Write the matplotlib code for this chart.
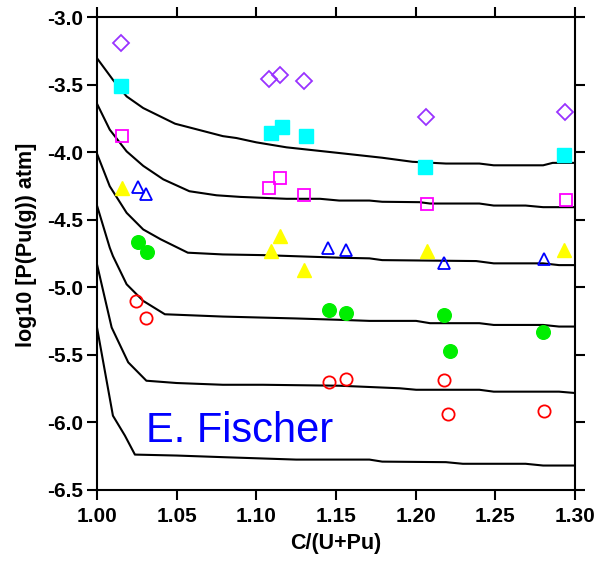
import matplotlib
matplotlib.use("Agg")
import matplotlib.pyplot as plt

plt.rcParams['font.family'] = ['Liberation Sans', 'DejaVu Sans']

# model curves (black lines)
curve_x = [
    [1.000, 1.010, 1.0186, 1.029, 1.049, 1.079, 1.0875, 1.100, 1.119, 1.152, 1.179, 1.198, 1.219, 1.240, 1.249, 1.280, 1.286, 1.300],
    [1.000, 1.008, 1.0186, 1.029, 1.0416, 1.058, 1.075, 1.090, 1.119, 1.140, 1.152, 1.171, 1.179, 1.2024, 1.209, 1.240, 1.249, 1.269, 1.280, 1.300],
    [1.000, 1.008, 1.0186, 1.029, 1.040, 1.057, 1.079, 1.104, 1.152, 1.171, 1.179, 1.238, 1.249, 1.280, 1.290, 1.300],
    [1.000, 1.008, 1.010, 1.0186, 1.029, 1.0426, 1.079, 1.125, 1.152, 1.171, 1.2003, 1.209, 1.240, 1.249, 1.280, 1.290, 1.300],
    [1.000, 1.0092, 1.0196, 1.031, 1.050, 1.079, 1.104, 1.152, 1.190, 1.2003, 1.240, 1.249, 1.290, 1.300],
    [1.000, 1.010, 1.0175, 1.0238, 1.050, 1.079, 1.125, 1.152, 1.171, 1.179, 1.219, 1.2296, 1.269, 1.280, 1.300],
]
curve_y = [
    [-3.303, -3.463, -3.586, -3.672, -3.788, -3.880, -3.894, -3.926, -3.963, -4.005, -4.040, -4.070, -4.083, -4.083, -4.096, -4.096, -4.078, -4.078],
    [-3.640, -3.832, -3.993, -4.100, -4.200, -4.288, -4.318, -4.330, -4.344, -4.344, -4.357, -4.357, -4.366, -4.369, -4.379, -4.379, -4.394, -4.394, -4.406, -4.406],
    [-4.010, -4.251, -4.448, -4.571, -4.644, -4.743, -4.756, -4.761, -4.780, -4.785, -4.798, -4.805, -4.822, -4.822, -4.835, -4.835],
    [-4.394, -4.706, -4.768, -4.977, -5.100, -5.199, -5.216, -5.230, -5.240, -5.248, -5.248, -5.265, -5.265, -5.278, -5.278, -5.290, -5.290],
    [-4.829, -5.297, -5.555, -5.691, -5.708, -5.721, -5.721, -5.728, -5.747, -5.758, -5.758, -5.772, -5.772, -5.782],
    [-5.297, -5.950, -6.097, -6.238, -6.245, -6.257, -6.275, -6.275, -6.275, -6.290, -6.294, -6.306, -6.306, -6.319, -6.319],
]

# measured points
diamond_x = [1.015, 1.108, 1.115, 1.130, 1.2066, 1.294]
diamond_y = [-3.19, -3.456, -3.43, -3.47, -3.74, -3.70]

cyan_x = [1.015, 1.109, 1.116, 1.131, 1.206, 1.293]
cyan_y = [-3.507, -3.857, -3.81, -3.88, -4.106, -4.02]

magenta_x = [1.016, 1.108, 1.115, 1.130, 1.207, 1.2945]
magenta_y = [-3.877, -4.263, -4.19, -4.318, -4.379, -4.352]

yellow_x = [1.016, 1.115, 1.109, 1.130, 1.207, 1.293]
yellow_y = [-4.266, -4.62, -4.73, -4.874, -4.731, -4.724]

blue_x = [1.026, 1.0305, 1.145, 1.156, 1.2177, 1.2803]
blue_y = [-4.258, -4.307, -4.705, -4.72, -4.822, -4.79]

green_x = [1.0255, 1.0313, 1.1458, 1.156, 1.2177, 1.2214, 1.280]
green_y = [-4.665, -4.738, -5.169, -5.186, -5.206, -5.474, -5.33]

red_x = [1.0244, 1.0305, 1.1458, 1.156, 1.218, 1.2204, 1.2806]
red_y = [-5.10, -5.223, -5.699, -5.681, -5.686, -5.935, -5.915]

x_ticks = [1.00, 1.05, 1.10, 1.15, 1.20, 1.25, 1.30]
y_ticks = [-3.0, -3.5, -4.0, -4.5, -5.0, -5.5, -6.0, -6.5]


fig = plt.figure(figsize=(5.98, 5.63), dpi=100)
ax = fig.add_axes([0.1622, 0.1297, 0.7993, 0.8396])

for cx, cy in zip(curve_x, curve_y):
    ax.plot(cx, cy, color='black', lw=1.5, zorder=2)

ax.plot(diamond_x, diamond_y, 'D', ms=8.5, mfc='none', mec='#9933ff', mew=1.3, ls='none', zorder=3)
ax.plot(cyan_x, cyan_y, 's', ms=9.5, color='#00ffff', mec='#00ffff', ls='none', zorder=3)
ax.plot(magenta_x, magenta_y, 's', ms=8.5, mfc='none', mec='#ff00ff', mew=1.3, ls='none', zorder=3)
ax.plot(yellow_x, yellow_y, '^', ms=10, color='#ffff00', mec='#ffff00', ls='none', zorder=3)
ax.plot(blue_x, blue_y, '^', ms=8.5, mfc='none', mec='#0000ff', mew=1.3, ls='none', zorder=3)
ax.plot(green_x, green_y, 'o', ms=9.8, color='#00ee00', mec='#00ee00', ls='none', zorder=3)
ax.plot(red_x, red_y, 'o', ms=8.8, mfc='none', mec='#ff0000', mew=1.3, ls='none', zorder=3)

ax.text(1.0307, -6.146, 'E. Fischer', color='#0000ff', fontsize=30)

ax.set_xlim(1.0, 1.3)
ax.set_ylim(-6.5, -3.0)
ax.set_xticks(x_ticks)
ax.set_xticklabels([f'{t:.2f}' for t in x_ticks])
ax.set_yticks(y_ticks)
ax.set_yticklabels([f'{t:.1f}' for t in y_ticks])

ax.tick_params(direction='out', length=7, width=1.5, labelsize=15,
               top=True, right=True, labeltop=False, labelright=False)
ax.tick_params(axis='x', pad=5)
ax.tick_params(axis='y', pad=3)
for lab in ax.get_xticklabels() + ax.get_yticklabels():
    lab.set_fontweight('bold')
for sp in ax.spines.values():
    sp.set_linewidth(1.5)

ax.set_xlabel('C/(U+Pu)', fontsize=15.5, fontweight='bold', labelpad=5)
ax.set_ylabel('log10 [P(Pu(g)) atm]', fontsize=15.5, fontweight='bold')
ax.yaxis.set_label_coords(-0.1255, 0.518)

fig.savefig('out.png', dpi=100)
